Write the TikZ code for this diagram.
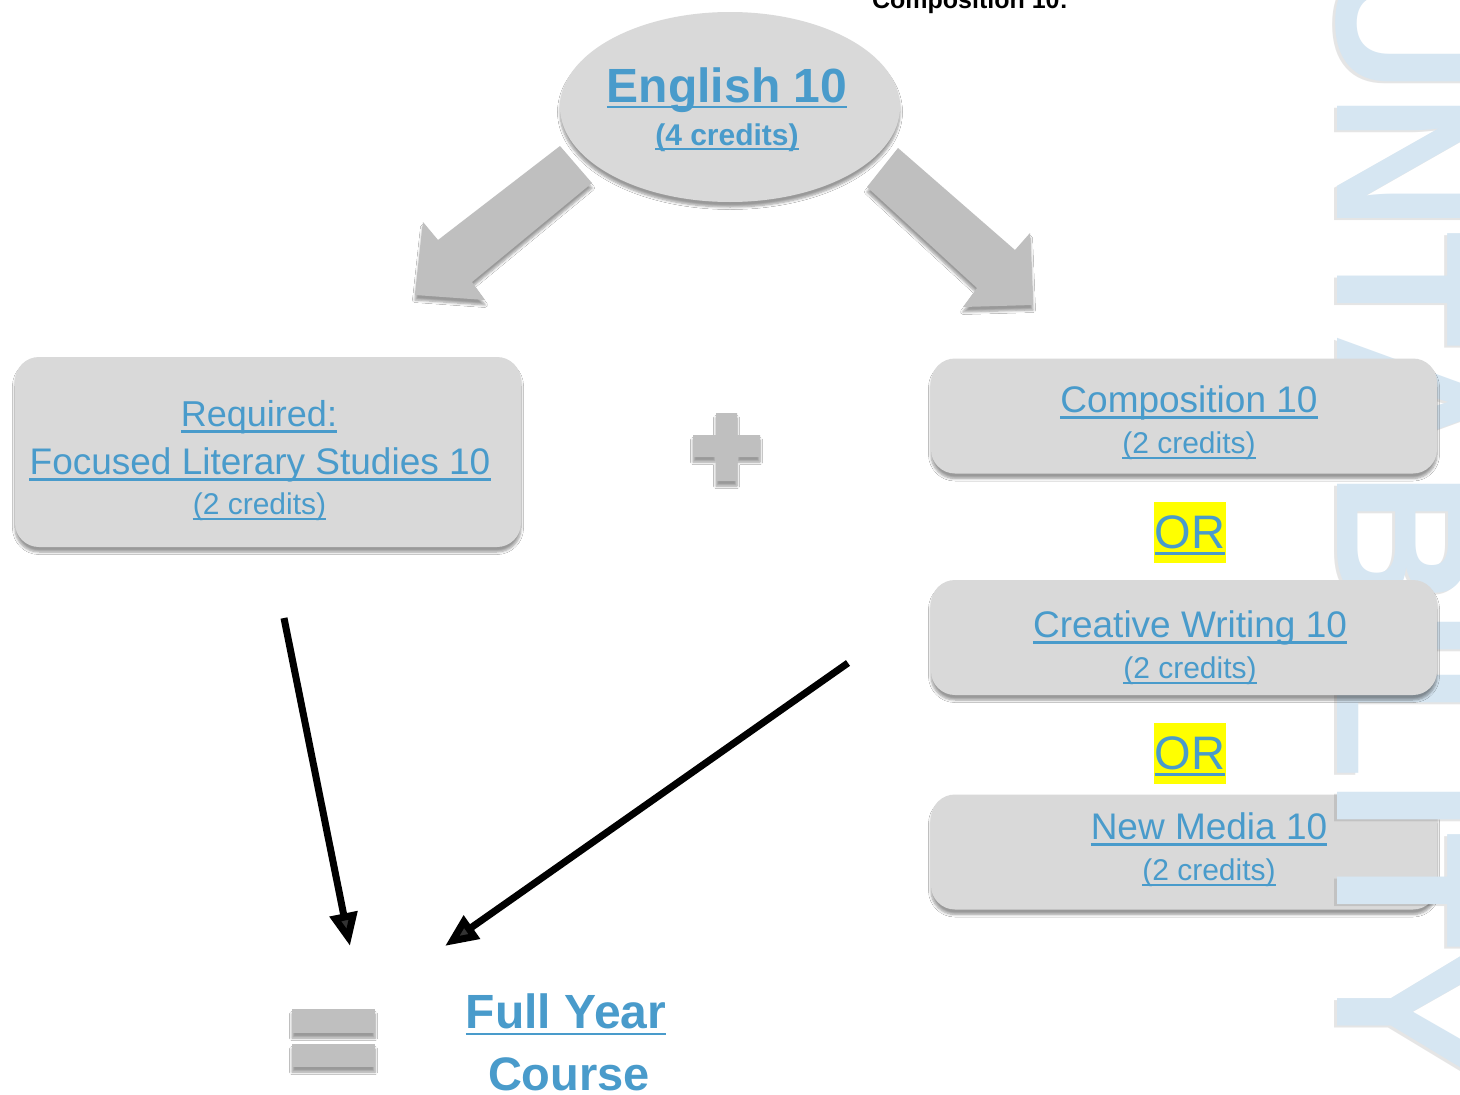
\documentclass[tikz,border=0pt]{standalone}
\usepackage{fontspec}
\setmainfont{Liberation Sans}
\usetikzlibrary{shapes.geometric,shadows.blur,arrows.meta}
\definecolor{txtblue}{RGB}{73,155,203}
\definecolor{boxgray}{RGB}{217,217,217}
\definecolor{arrgray}{RGB}{191,191,191}
\definecolor{wmblue}{RGB}{214,230,242}
\definecolor{hiyellow}{RGB}{255,255,0}
\tikzset{
  sh/.style={blur shadow={shadow xshift=0pt, shadow yshift=-5pt, shadow blur radius=2.5pt, shadow blur steps=6, shadow opacity=40}},
  boxnode/.style={draw=none, fill=boxgray, rounded corners=24pt, sh, inner sep=0pt, minimum width=506pt},
  txt/.style={text=txtblue, inner sep=0pt, anchor=base},
  blockarrow/.style={fill=arrgray, sh},
  blackarrow/.style={line width=7pt, -{Triangle[length=33pt,width=27pt]}},
  hibox/.style={fill=hiyellow, inner sep=0pt, minimum width=72pt, minimum height=61pt},
}
\newcommand{\ulnode}[5]{%
  \node[txt, font=#3] (#1) at (#2) {#4};
  \draw[txtblue, line width={0.45*#5pt}] ([yshift=-#5pt]#1.base west) -- ([yshift=-#5pt]#1.base east);
}
\begin{document}
\begin{tikzpicture}[x=1pt,y=-1pt]
\useasboundingbox (0,0) rectangle (1460,1095);
\clip (0,0) rectangle (1460,1095);
\fill[white] (0,0) rectangle (1460,1095);

% cut-off top text
\node[anchor=base, inner sep=0pt, font=\fontsize{25}{25}\selectfont\bfseries] (toptxt) at (970,8) {Composition 10:};

% grey block arrows
\fill[blockarrow] (560,146) -- (592,183) -- (472,282) -- (485,300) -- (415,295) -- (423,222) -- (438,240) -- cycle;
\fill[blockarrow] (898,148) -- (1015,250) -- (1030,233) -- (1033,305) -- (963,307) -- (977,288) -- (867,187) -- cycle;

% English 10 ellipse
\node[ellipse, fill=boxgray, sh, inner sep=0pt, minimum width=340pt, minimum height=190pt] (eng) at (730,107) {};
\ulnode{engt}{727,102}{\fontsize{48}{48}\selectfont\bfseries}{English 10}{5}
\ulnode{engc}{727,145}{\fontsize{30}{30}\selectfont\bfseries}{(4 credits)}{4}

% left box
\node[boxnode, minimum height=190pt] (req) at (268,452) {};
\ulnode{reqt}{259,426}{\fontsize{36}{36}\selectfont}{Required:}{5.5}
\ulnode{flst}{260,474}{\fontsize{37}{37}\selectfont}{Focused Literary Studies 10}{5.5}
\ulnode{reqc}{259.5,514}{\fontsize{30}{30}\selectfont}{(2 credits)}{5}

% plus sign
\fill[arrgray, sh] (716,413) rectangle (737,481) (693,435) rectangle (760,457);

% New Media box (behind watermark)
\node[boxnode, minimum height=115pt] (nm) at (1184,852) {};
\ulnode{nmt}{1209,839}{\fontsize{37}{37}\selectfont}{New Media 10}{5.5}
\ulnode{nmc}{1209,880}{\fontsize{30}{30}\selectfont}{(2 credits)}{5}

% watermark
\node[rotate=-90, anchor=base west, inner sep=0pt, text=black, opacity=0.10, font=\fontsize{191}{191}\selectfont\bfseries] (wmsh) at (1334,-43) {UNTABILITY};
\node[rotate=-90, anchor=base west, inner sep=0pt, text=wmblue, font=\fontsize{191}{191}\selectfont\bfseries] (wm) at (1337,-45) {UNTABILITY};

% Composition box
\node[boxnode, minimum height=115pt] (comp) at (1184,416) {};
\ulnode{compt}{1189,412}{\fontsize{37}{37}\selectfont}{Composition 10}{5.5}
\ulnode{compc}{1189,453}{\fontsize{30}{30}\selectfont}{(2 credits)}{5}

% OR 1
\node[hibox] (or1bg) at (1190,532.5) {};
\ulnode{or1}{1190,548}{\fontsize{47}{47}\selectfont}{OR}{5.5}

% Creative Writing box
\node[boxnode, minimum height=115pt] (crw) at (1184,637.5) {};
\ulnode{crwt}{1190,637}{\fontsize{37}{37}\selectfont}{Creative Writing 10}{5.5}
\ulnode{crwc}{1190,678}{\fontsize{30}{30}\selectfont}{(2 credits)}{5}

% OR 2
\node[hibox] (or2bg) at (1190,753.5) {};
\ulnode{or2}{1190,769}{\fontsize{47}{47}\selectfont}{OR}{5.5}

% black arrows
\coordinate (la1) at (284,618);
\coordinate (la2) at (350,946);
\coordinate (ra1) at (848,663);
\coordinate (ra2) at (445,946);
\draw[blackarrow] (la1) -- (la2);
\draw[blackarrow] (ra1) -- (ra2);

% equals sign
\fill[arrgray, sh] (292,1009) rectangle (375,1033);
\fill[arrgray, sh] (292,1044) rectangle (375,1067);

% Full Year Course
\ulnode{full}{566,1028}{\fontsize{48}{48}\selectfont\bfseries}{Full Year}{6}
\node[txt, font=\fontsize{47}{47}\selectfont\bfseries] (course) at (569,1090) {Course};
\end{tikzpicture}
\end{document}
